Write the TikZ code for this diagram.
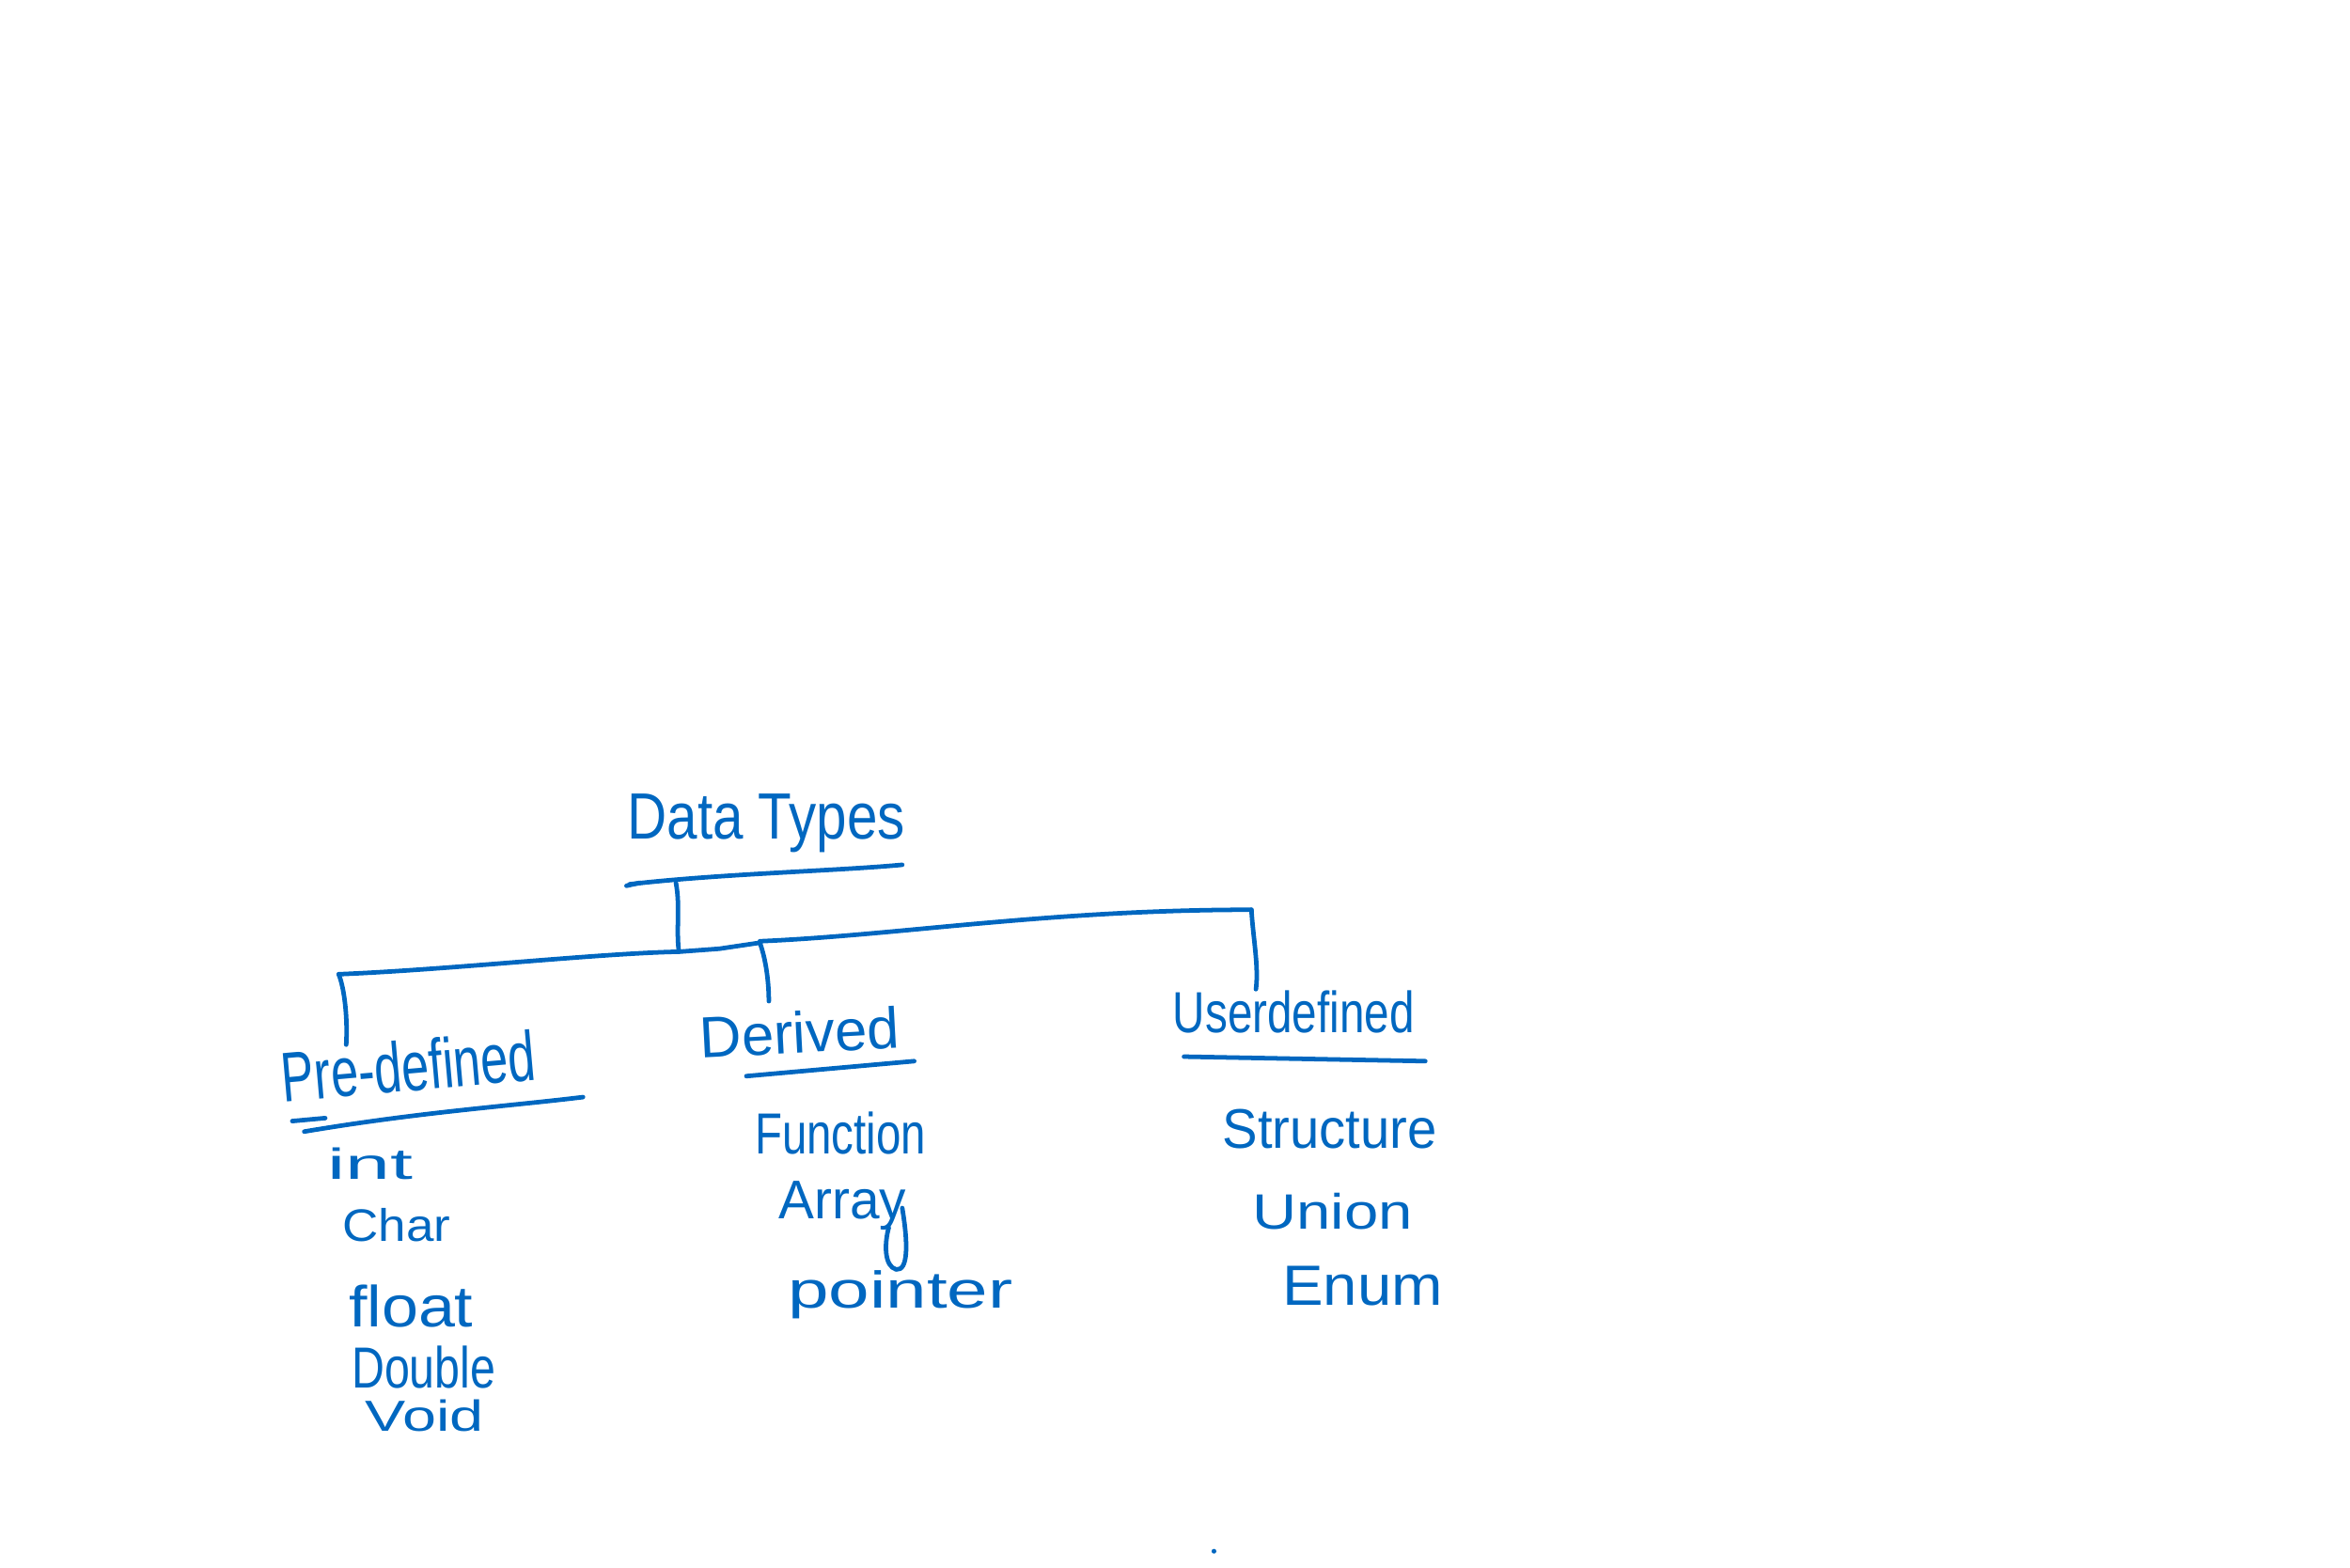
\documentclass[tikz,border=0pt]{standalone}
\usepackage{fontspec}
\setmainfont{Liberation Sans}
\definecolor{ink}{RGB}{0,103,192}
\newcommand\fitwh[3]{\resizebox{#1}{#2}{#3}}
\begin{document}
\begin{tikzpicture}[x=0.01cm,y=-0.01cm,
  inkline/.style={draw=ink,line width=0.85pt,line cap=round,line join=round},
  lbl/.style={text=ink,inner sep=0pt,anchor=base west}]
\useasboundingbox (0,0) rectangle (1568,1046);
% labels
\node[lbl] (root) at (418,560) {\fitwh{1.85cm}{0.30cm}{Data Types}};
\node[lbl,anchor=base,rotate=5] (pre) at (274,728) {\fitwh{1.70cm}{0.34cm}{Pre-defined}};
\node[lbl,rotate=3] (der) at (467,706) {\fitwh{1.33cm}{0.28cm}{Derived}};
\node[lbl] (usr) at (782,689) {\fitwh{1.61cm}{0.28cm}{Userdefined}};
\node[lbl] (int) at (218,787) {\fitwh{0.57cm}{0.21cm}{int}};
\node[lbl] (char) at (228,828) {\fitwh{0.72cm}{0.22cm}{Char}};
\node[lbl] (float) at (232,885) {\fitwh{0.83cm}{0.28cm}{float}};
\node[lbl] (double) at (234,926) {\fitwh{0.96cm}{0.28cm}{Double}};
\node[lbl] (void) at (243,955) {\fitwh{0.79cm}{0.21cm}{Void}};
\node[lbl] (func) at (503,770) {\fitwh{1.14cm}{0.28cm}{Function}};
\node[lbl] (array) at (519,813) {\fitwh{0.85cm}{0.25cm}{Array}};
\node[lbl] (ptr) at (525,873) {\fitwh{1.50cm}{0.25cm}{pointer}};
\node[lbl] (struct) at (815,766) {\fitwh{1.43cm}{0.26cm}{Structure}};
\node[lbl] (union) at (835,820) {\fitwh{1.07cm}{0.24cm}{Union}};
\node[lbl] (enum) at (855,871) {\fitwh{1.07cm}{0.26cm}{Enum}};
% junction coordinates
\coordinate (rootL) at (420,590);
\coordinate (rootR) at (602,577);
\coordinate (trunkTop) at (451,589);
\coordinate (trunkBot) at (453,635);
\coordinate (preTop) at (226,650);
\coordinate (preEnd) at (231,697);
\coordinate (derTop) at (507,629);
\coordinate (derEnd) at (513,668);
\coordinate (usrTop) at (835,607);
\coordinate (usrEnd) at (838,660);
% underlines
\draw[inkline] (rootL) .. controls (480,583) and (560,581) .. (rootR);
\draw[inkline] (418,591) -- (427,589);
\draw[inkline] (203,755) .. controls (280,742) and (340,738) .. (389,732);
\draw[inkline] (195,748) -- (217,746);
\draw[inkline] (498,718) -- (610,708);
\draw[inkline] (790,705) -- (951,708);
% connectors
\draw[inkline] (trunkTop) .. controls (454,605) and (451,620) .. (trunkBot);
\draw[inkline] (preTop) .. controls (300,647) and (400,636) .. (trunkBot) -- (480,633) -- (derTop);
\draw[inkline] (507,628) .. controls (600,624) and (700,607) .. (usrTop);
\draw[inkline] (preTop) .. controls (230,660) and (232,680) .. (preEnd);
\draw[inkline] (derTop) .. controls (511,640) and (513,655) .. (derEnd);
\draw[inkline] (usrTop) .. controls (836,625) and (840,645) .. (usrEnd);
% y loop of Array
\draw[inkline] (602,806) .. controls (606,830) and (606,848) .. (598,847) .. controls (590,845) and (590,830) .. (593,819);
% stray dot
\fill[ink] (810,1035) circle (1.6);
\end{tikzpicture}
\end{document}
